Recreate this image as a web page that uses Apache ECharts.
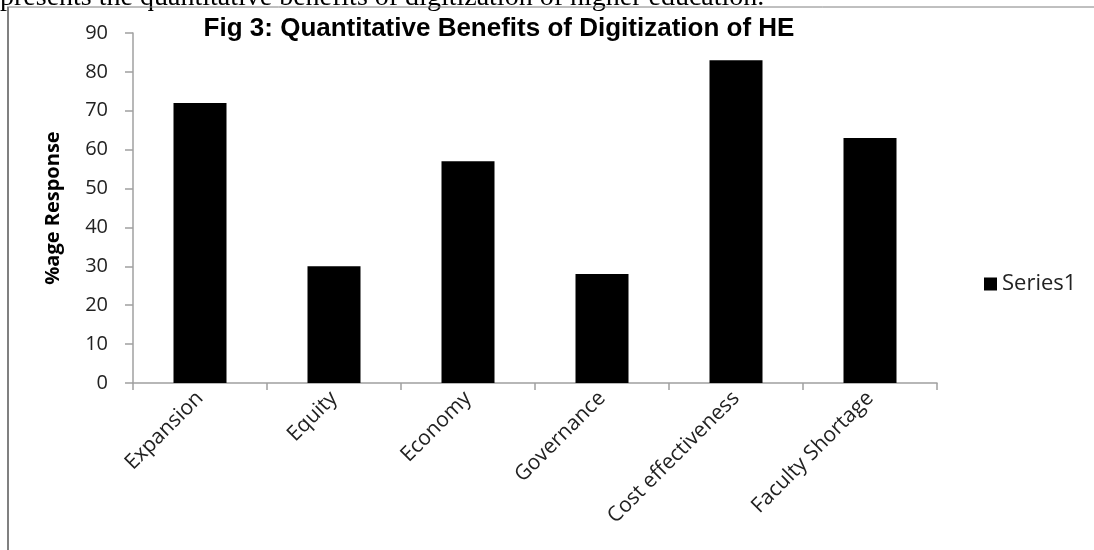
<!DOCTYPE html>
<html>
<head>
<meta charset="utf-8">
<script src="https://cdn.jsdelivr.net/npm/echarts@6/dist/echarts.min.js"></script>
<style>
html,body{margin:0;padding:0;background:#fff;}
#c{width:1094px;height:550px;}
</style>
</head>
<body>
<div id="c"></div>
<script>
const categories = ["Expansion", "Equity", "Economy", "Governance", "Cost effectiveness", "Faculty Shortage"];
const series1 = [72, 30, 57, 28, 83, 63];
const yTicks = [0, 10, 20, 30, 40, 50, 60, 70, 80, 90];

const chart = echarts.init(document.getElementById('c'), null, {renderer: 'canvas'});
const labelFont = '"Open Sans", "Noto Sans", sans-serif';
chart.setOption({
  animation: false,
  backgroundColor: '#fff',
  title: {
    text: 'Fig 3: Quantitative Benefits of Digitization of HE',
    left: 494, top: 11, textAlign: 'center',
    textStyle: {fontFamily: '"Liberation Sans", Arial, sans-serif', fontWeight: 'bold', fontSize: 26, color: '#000'}
  },
  legend: {
    data: ['Series1'],
    left: 979, top: 268,
    itemWidth: 13, itemHeight: 13, itemGap: 10,
    textStyle: {fontFamily: labelFont, fontSize: 22, color: '#222'},
    icon: 'rect'
  },
  grid: {left: 133, right: 157, top: 33, bottom: 167, containLabel: false},
  xAxis: {
    type: 'category',
    data: categories,
    axisLine: {lineStyle: {color: '#a0a0a0', width: 1.5}},
    axisTick: {show: true, length: 7, lineStyle: {color: '#a0a0a0', width: 1.5}},
    axisLabel: {rotate: 45, margin: 12, fontFamily: labelFont, fontSize: 21, color: '#222', interval: 0}
  },
  yAxis: {
    type: 'value',
    min: yTicks[0], max: yTicks[yTicks.length - 1], interval: 10,
    name: '%age Response',
    nameLocation: 'middle', nameGap: 70,
    nameTextStyle: {fontFamily: labelFont, fontWeight: 'bold', fontSize: 20, color: '#000'},
    axisLine: {show: true, lineStyle: {color: '#a0a0a0', width: 1.5}},
    axisTick: {show: true, length: 8, lineStyle: {color: '#a0a0a0', width: 1.5}},
    splitLine: {show: false},
    axisLabel: {margin: 25, fontFamily: labelFont, fontSize: 20, color: '#222'}
  },
  series: [{
    name: 'Series1',
    type: 'bar',
    data: series1,
    barWidth: 53,
    itemStyle: {color: '#000'}
  }],
  graphic: [
    {type: 'text', left: 0, top: -16, style: {text: 'presents the quantitative benefits of digitization of higher education.', font: '28px "Liberation Serif", "Times New Roman", serif', fill: '#000'}},
    {type: 'line', shape: {x1: 7, y1: 7, x2: 1094, y2: 7}, style: {stroke: '#808080', lineWidth: 1}},
    {type: 'line', shape: {x1: 8, y1: 7, x2: 8, y2: 550}, style: {stroke: '#808080', lineWidth: 2}}
  ]
});
</script>
</body>
</html>
